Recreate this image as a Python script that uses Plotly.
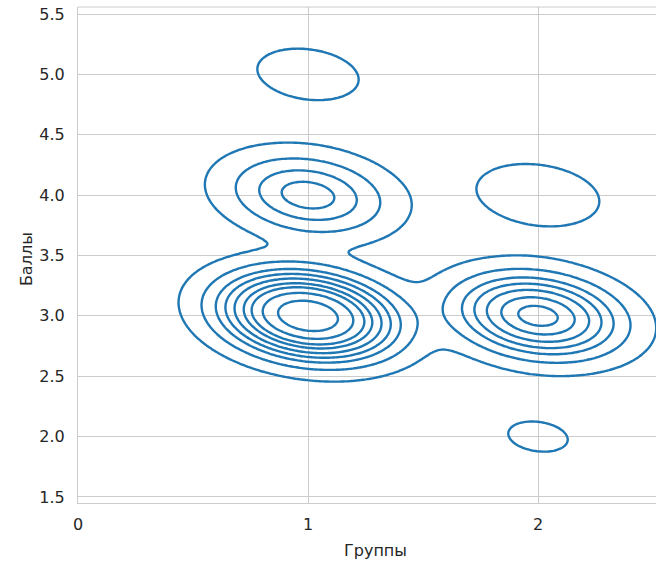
import numpy as np
import plotly.graph_objects as go

# Observations: group, score and how many times each pair occurs
group = [1, 1, 1, 2, 2, 2]
score = [3, 4, 5, 2, 3, 4]
count = [92, 21, 3, 2, 47, 4]

x_ticks = [0, 1, 2]
y_ticks = [1.5, 2.0, 2.5, 3.0, 3.5, 4.0, 4.5, 5.0, 5.5]

# Expand into individual observations
xs_obs = np.repeat(np.array(group, float), count)
ys_obs = np.repeat(np.array(score, float), count)
data = np.vstack([xs_obs, ys_obs])
n = data.shape[1]

# Gaussian KDE with Scott's bandwidth (full covariance)
factor = n ** (-1.0 / 6.0)
cov = np.cov(data, ddof=1) * factor ** 2
inv = np.linalg.inv(cov)
norm = 1.0 / (2 * np.pi * np.sqrt(np.linalg.det(cov)) * n)


def density(X, Y):
    Z = np.zeros(np.shape(X))
    ux, inv_idx = np.unique(data.T, axis=0, return_inverse=True)
    w = np.bincount(inv_idx.ravel())
    for (px, py), wi in zip(ux, w):
        a = X - px
        b = Y - py
        q = inv[0, 0] * a * a + 2 * inv[0, 1] * a * b + inv[1, 1] * b * b
        Z = Z + wi * np.exp(-0.5 * q)
    return Z * norm


# Evaluation grid: data range extended by three bandwidths
bw = np.sqrt(np.diag(cov))
cut, gridsize = 3, 200
gx = np.linspace(xs_obs.min() - cut * bw[0], xs_obs.max() + cut * bw[0], gridsize)
gy = np.linspace(ys_obs.min() - cut * bw[1], ys_obs.max() + cut * bw[1], gridsize)
GX, GY = np.meshgrid(gx, gy)
Z = density(GX, GY)

# Iso-proportion contour levels
iso = np.linspace(0.05, 1, 10)
vals = np.sort(Z.ravel())[::-1]
cum = np.cumsum(vals) / vals.sum()
levels = np.take(vals, np.searchsorted(cum, 1 - iso), mode="clip")

fig = go.Figure()
for lev in levels[:-1]:
    fig.add_trace(go.Contour(
        x=gx, y=gy, z=Z, autocontour=False,
        contours=dict(start=lev, end=lev, size=lev, coloring="none"),
        line=dict(color="#1f77b4", width=2.4),
        showscale=False, hoverinfo="skip",
    ))

grid_col = "#cccccc"
text_col = "#262626"
fig.update_layout(
    width=656, height=566,
    margin=dict(l=78, r=0, t=7, b=63),
    paper_bgcolor="white", plot_bgcolor="white", showlegend=False,
    font=dict(family="DejaVu Sans", size=16, color=text_col),
)
fig.update_xaxes(
    range=[0, 2.513], tickvals=x_ticks, showgrid=True, gridcolor=grid_col, gridwidth=1,
    zeroline=False, showline=True, linecolor=grid_col, linewidth=1,
    ticks="outside", ticklen=7, tickcolor="rgba(0,0,0,0)",
)
fig.update_yaxes(
    range=[1.45, 5.558], tickvals=y_ticks, tickformat=".1f",
    showgrid=True, gridcolor=grid_col, gridwidth=1,
    zeroline=False, showline=True, linecolor=grid_col, linewidth=1,
    ticks="outside", ticklen=9, tickcolor="rgba(0,0,0,0)",
)
# top spine
fig.add_shape(type="line", xref="paper", yref="paper", x0=0, x1=1, y0=1, y1=1,
              line=dict(color=grid_col, width=1))
fig.add_annotation(text="Группы", xref="paper", yref="paper", x=0.514, y=-0.095,
                   showarrow=False, xanchor="center", yanchor="middle",
                   font=dict(size=16, color=text_col))
fig.add_annotation(text="Баллы", xref="paper", yref="paper", x=-0.088, y=0.492,
                   showarrow=False, xanchor="center", yanchor="middle", textangle=-90,
                   font=dict(size=16, color=text_col))

fig.write_html("out.html")
